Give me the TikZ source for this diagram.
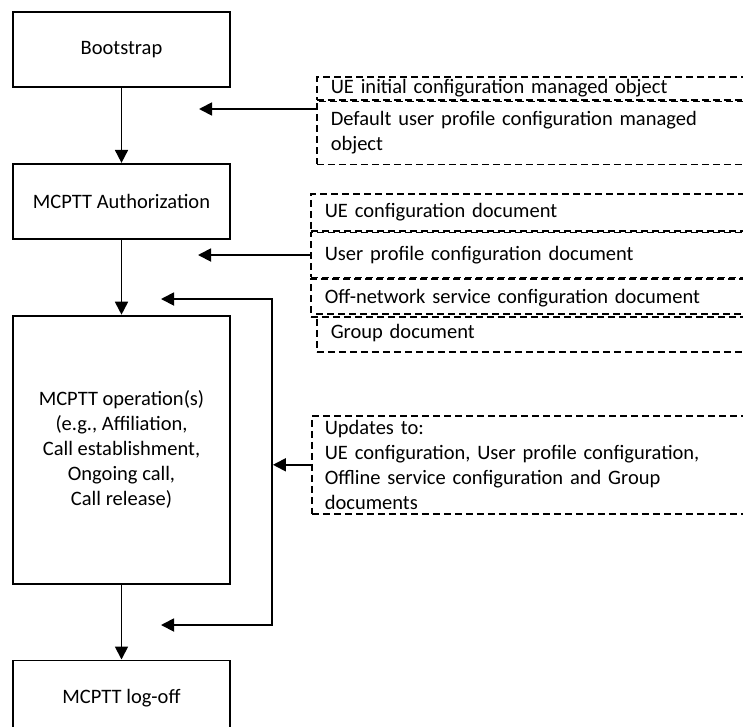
\documentclass[tikz,border=0pt]{standalone}
\usepackage{fontspec}
\setmainfont{Carlito}
\usetikzlibrary{positioning, arrows.meta}

\begin{document}
\begin{tikzpicture}[
    x=1pt, y=-1pt,
    font=\fontsize{20.5}{25}\selectfont,
    node distance=75pt,
    stage/.style={rectangle, draw, line width=1.8pt, minimum width=217pt,
                  minimum height=75pt, align=center, inner sep=0pt},
    docbox/.style={rectangle, draw, dashed, dash pattern=on 7pt off 4pt,
                   line width=1.6pt, text width=440pt, inner xsep=14pt,
                   inner ysep=0pt, align=left, anchor=north west},
    arrow/.style={-{Triangle[length=13pt, width=13pt]}, line width=1.8pt},
    twoway/.style={{Triangle[length=13pt, width=13pt]}-{Triangle[length=13pt, width=13pt]},
                   line width=1.8pt}
]
\clip (0,0) rectangle (743,726);
% --- Etapas ---
\node[stage] (boot) at (121.5,49.5) {Bootstrap};
\node[stage, below=of boot] (auth) {MCPTT Authorization};
\node[stage, below=of auth, minimum height=268pt] (oper)
    {MCPTT operation(s)\\(e.g., Affiliation,\\Call establishment,\\Ongoing call,\\Call release)};
\node[stage, below=of oper] (logoff) {MCPTT log-off};
% --- Objetos gestionados ---
\node[docbox, minimum height=23pt] (uemo) at (316,76)
    {UE initial configuration managed object};
\node[docbox, minimum height=63pt] (dupmo) at (uemo.south west)
    {Default user profile configuration managed\\object};
% --- Documentos ---
\node[docbox, minimum height=37pt] (uecd) at (310,193) {UE configuration document};
\node[docbox, minimum height=45pt] (upcd) at (uecd.south west)
    {User profile configuration document};
\node[docbox, minimum height=38pt] (oscd) at (upcd.south west)
    {Off-network service configuration document};
\node[docbox, minimum height=38pt] (grpd) at (316,313) {Group document};
% --- Actualizaciones ---
\node[docbox, minimum height=98pt, inner xsep=13pt] (upd) at (311,415)
    {Updates to:\\UE configuration, User profile configuration,\\Offline service configuration and Group\\documents};
% --- Flechas ---
\foreach \a/\b in {boot/auth, auth/oper, oper/logoff}
    \draw[arrow] (\a) -- (\b);
\coordinate (in1tip) at (199,109);
\coordinate (in2tip) at (198,255);
\draw[arrow] (in1tip -| dupmo.west) -- (in1tip);
\draw[arrow] (in2tip -| upcd.west) -- (in2tip);
\coordinate (looptop) at (161,299);
\coordinate (loopcorner) at (272,625);
\coordinate (loopbot) at (161,625);
\draw[twoway] (looptop) -| (loopcorner) -- (loopbot);
\draw[arrow, shorten >=0.9pt] (upd.west) -- (upd.west -| loopcorner);
\end{tikzpicture}
\end{document}
